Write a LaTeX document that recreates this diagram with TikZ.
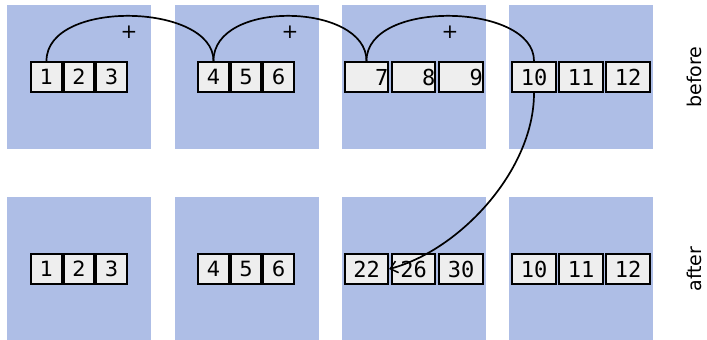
\documentclass[tikz,border=0pt]{standalone}
\usepackage{fontspec}
\setmainfont{DejaVu Sans}
\setmonofont{DejaVu Sans Mono}
\usetikzlibrary{arrows.meta}
\definecolor{panelblue}{HTML}{AEBEE6}
\definecolor{cellgray}{HTML}{EEEEEE}
\tikzset{
  panel/.style={fill=panelblue, draw=none, minimum width=144pt, minimum height=144pt, inner sep=0pt},
  cell/.style={draw=black, line width=1.8pt, fill=cellgray, minimum height=30.5pt, inner sep=0pt, font=\fontsize{21}{24}\selectfont},
  narrow/.style={cell, minimum width=30.5pt},
  wide/.style={cell, minimum width=43.5pt, font=\fontsize{22}{24}\selectfont\ttfamily},
  wider/.style={wide, text width=43.5pt, align=right},
  link/.style={line width=1.7pt, black},
  plus/.style={font=\fontsize{20}{24}\selectfont, inner sep=0pt},
  side/.style={rotate=90, font=\fontsize{19}{22}\selectfont, inner sep=0pt}
}
\begin{document}
\begin{tikzpicture}[x=1pt,y=-1pt]
\useasboundingbox (0,0) rectangle (707,340);
% panels
\node[panel] (p1) at (79,77) {};
\node[panel] (p2) at (247,77) {};
\node[panel] (p3) at (414,77) {};
\node[panel] (p4) at (581,77) {};
\node[panel] (q1) at (79,269) {};
\node[panel] (q2) at (247,269) {};
\node[panel] (q3) at (414,269) {};
\node[panel] (q4) at (581,269) {};
% top cells
\node[narrow] (a1) at (46.5,77) {1};
\node[narrow] (a2) at (79,77) {2};
\node[narrow] (a3) at (111.5,77) {3};
\node[narrow] (a4) at (213.5,77) {4};
\node[narrow] (a5) at (246,77) {5};
\node[narrow] (a6) at (278.5,77) {6};
\node[wider] (a7) at (366.5,77) {7\hspace*{6pt}};
\node[wider] (a8) at (413.5,77) {8\hspace*{6pt}};
\node[wider] (a9) at (461,77) {9\hspace*{6pt}};
\node[wide] (a10) at (534,77) {10};
\node[wide] (a11) at (581,77) {11};
\node[wide] (a12) at (628,77) {12};
% bottom cells
\node[narrow] (b1) at (46.5,269) {1};
\node[narrow] (b2) at (79,269) {2};
\node[narrow] (b3) at (111.5,269) {3};
\node[narrow] (b4) at (213.5,269) {4};
\node[narrow] (b5) at (246,269) {5};
\node[narrow] (b6) at (278.5,269) {6};
\node[wide] (b7) at (366.5,269) {22};
\node[wide] (b8) at (413.5,269) {26};
\node[wide] (b9) at (461,269) {30};
\node[wide] (b10) at (534,269) {10};
\node[wide] (b11) at (581,269) {11};
\node[wide] (b12) at (628,269) {12};
% plus signs
\node[plus] (s1) at (129,32) {+};
\node[plus] (s2) at (290,32) {+};
\node[plus] (s3) at (450,32) {+};
% side labels
\node[side] (before) at (694,77) {before};
\node[side] (after) at (694,269) {after};
% connectors
\draw[link] (a1.north) .. controls ++(0,-62) and ++(0,-58) .. (a4.north);
\draw[link] (a4.north) .. controls ++(0,-62) and ++(0,-58) .. (a7.north);
\draw[link] (a7.north) .. controls ++(0,-62) and ++(0,-58) .. (a10.north);
\coordinate (tip) at (b7.east);
\draw[link, -{Straight Barb[length=7pt,width=12pt,line width=1.5pt]}] (a10.south) .. controls ++(0,77) and (460,250) .. (tip);
\end{tikzpicture}
\end{document}
